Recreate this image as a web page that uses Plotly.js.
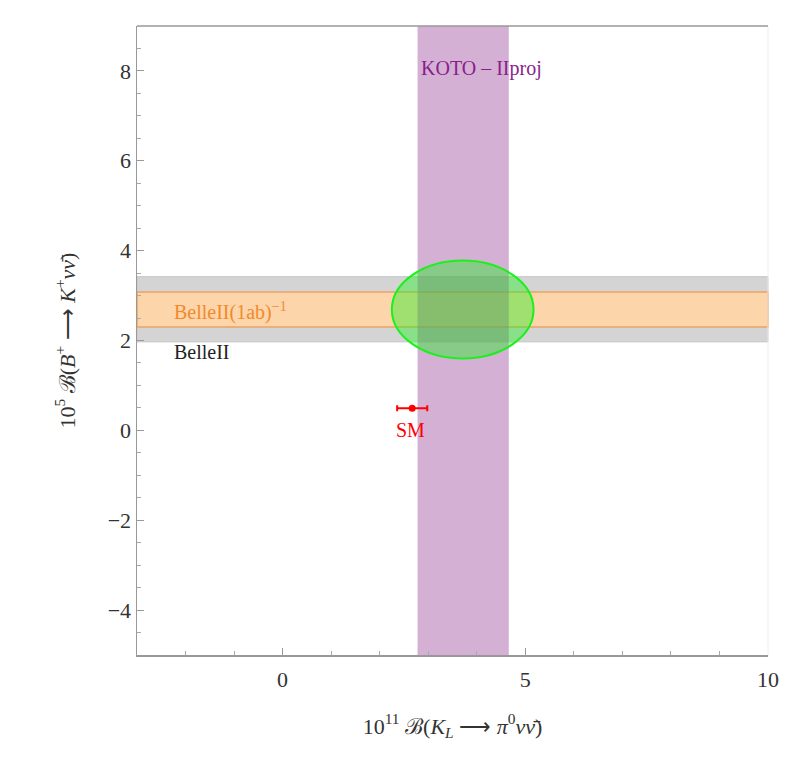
<!DOCTYPE html>
<html>
<head>
<meta charset="utf-8">
<script src="https://cdn.plot.ly/plotly-3.0.1.min.js"></script>
<style>html,body{margin:0;padding:0;background:#fff;}</style>
</head>
<body>
<div id="chart" style="width:793px;height:764px;"></div>
<script>
// Data
const xRange = [-3, 10];
const yRange = [-5, 9];
const xTickVals = [0, 5, 10];
const yTickVals = [-4, -2, 0, 2, 4, 6, 8];

const belleIIBand = [1.97, 3.42];        // gray band (y)
const belleII1abBand = [2.30, 3.08];     // orange band (y)
const kotoBand = [2.78, 4.66];           // purple band (x)

const ellipseCenter = [3.71, 2.69];
const ellipseSemiAxes = [1.46, 1.09];

const smX = [2.67];
const smY = [0.49];
const smXErr = [0.31];

const labels = ["KOTO \u2013 IIproj", "BelleII(1ab)<sup>\u22121</sup>", "BelleII", "SM"];
const labelX = [2.8, -2.27, -2.27, 2.64];
const labelY = [8.05, 2.64, 1.75, 0.0];

const serif = "Liberation Serif, Times New Roman, serif";

const traces = [{
  x: smX, y: smY, type: 'scatter', mode: 'markers',
  marker: {color: '#ff0000', size: 7},
  error_x: {type: 'data', array: smXErr, visible: true, color: '#ff0000', thickness: 2, width: 3},
  showlegend: false, hoverinfo: 'skip'
}];

const shapes = [
  {type: 'rect', xref: 'paper', yref: 'y', x0: 0, x1: 1, y0: belleIIBand[0], y1: belleIIBand[1],
   fillcolor: '#d4d4d4', line: {color: '#c4c4c4', width: 1}, layer: 'below'},
  {type: 'rect', xref: 'paper', yref: 'y', x0: 0, x1: 1, y0: belleII1abBand[0], y1: belleII1abBand[1],
   fillcolor: '#fcd5ab', line: {color: '#e9a466', width: 1.5}, layer: 'below'},
  {type: 'rect', xref: 'x', yref: 'paper', x0: kotoBand[0], x1: kotoBand[1], y0: 0, y1: 1,
   fillcolor: 'rgba(160,80,160,0.45)', line: {width: 0}, layer: 'below'},
  {type: 'circle', xref: 'x', yref: 'y',
   x0: ellipseCenter[0] - ellipseSemiAxes[0], x1: ellipseCenter[0] + ellipseSemiAxes[0],
   y0: ellipseCenter[1] - ellipseSemiAxes[1], y1: ellipseCenter[1] + ellipseSemiAxes[1],
   fillcolor: 'rgba(30,240,30,0.42)', line: {color: '#1cf01c', width: 2}, layer: 'above'},
  {type: 'line', xref: 'paper', yref: 'paper', x0: 1, x1: 1, y0: 0, y1: 1,
   line: {color: '#eeeeee', width: 1}},
  {type: 'line', xref: 'paper', yref: 'paper', x0: 0, x1: 1, y0: 1, y1: 1,
   line: {color: '#999', width: 1.5}}
];

const labelColors = ['#8a1e8a', '#f28a2a', '#222222', '#ff0000'];
const labelAnchors = ['left', 'left', 'left', 'center'];
const annotations = labels.map((t, i) => ({
  x: labelX[i], y: labelY[i], xref: 'x', yref: 'y', text: t, showarrow: false,
  xanchor: labelAnchors[i], yanchor: 'middle',
  font: {family: serif, size: 20, color: labelColors[i]}
}));

const layout = {
  width: 793, height: 764,
  margin: {l: 137, r: 25, t: 26, b: 109},
  paper_bgcolor: '#ffffff', plot_bgcolor: '#ffffff',
  font: {family: serif, color: '#333'},
  showlegend: false,
  xaxis: {
    range: xRange, tickvals: xTickVals, ticktext: xTickVals.map(String),
    showgrid: false, zeroline: false,
    showline: true, linecolor: '#999', linewidth: 1.5,
    ticks: 'inside', ticklen: 7, tickcolor: '#999', tickwidth: 1,
    minor: {dtick: 1, ticks: 'inside', ticklen: 4, tickcolor: '#aaa', showgrid: false},
    tickfont: {family: serif, size: 22, color: '#333'},
    ticklabelstandoff: 4,
    title: {text: "10<sup>11</sup> \u212C(<i>K<sub>L</sub></i> \u27F6 <i>\u03C0</i><sup>0</sup><i>\u03BD\u03BD\u0304</i>)",
            font: {family: serif, size: 22, color: '#333'}, standoff: 27}
  },
  yaxis: {
    range: yRange, tickvals: yTickVals, ticktext: yTickVals.map(v => v < 0 ? '\u2212' + Math.abs(v) : String(v)),
    showgrid: false, zeroline: false,
    showline: true, linecolor: '#999', linewidth: 1.5,
    ticks: 'inside', ticklen: 7, tickcolor: '#999', tickwidth: 1,
    minor: {dtick: 0.5, ticks: 'inside', ticklen: 4, tickcolor: '#aaa', showgrid: false},
    tickfont: {family: serif, size: 22, color: '#333'},
    title: {text: "10<sup>5</sup> \u212C(<i>B</i><sup>+</sup> \u27F6 <i>K</i><sup>+</sup><i>\u03BD\u03BD\u0304</i>)",
            font: {family: serif, size: 22, color: '#333'}, standoff: 26}
  },
  shapes: shapes,
  annotations: annotations
};

Plotly.newPlot('chart', traces, layout, {displayModeBar: false, staticPlot: true});
</script>
</body>
</html>
